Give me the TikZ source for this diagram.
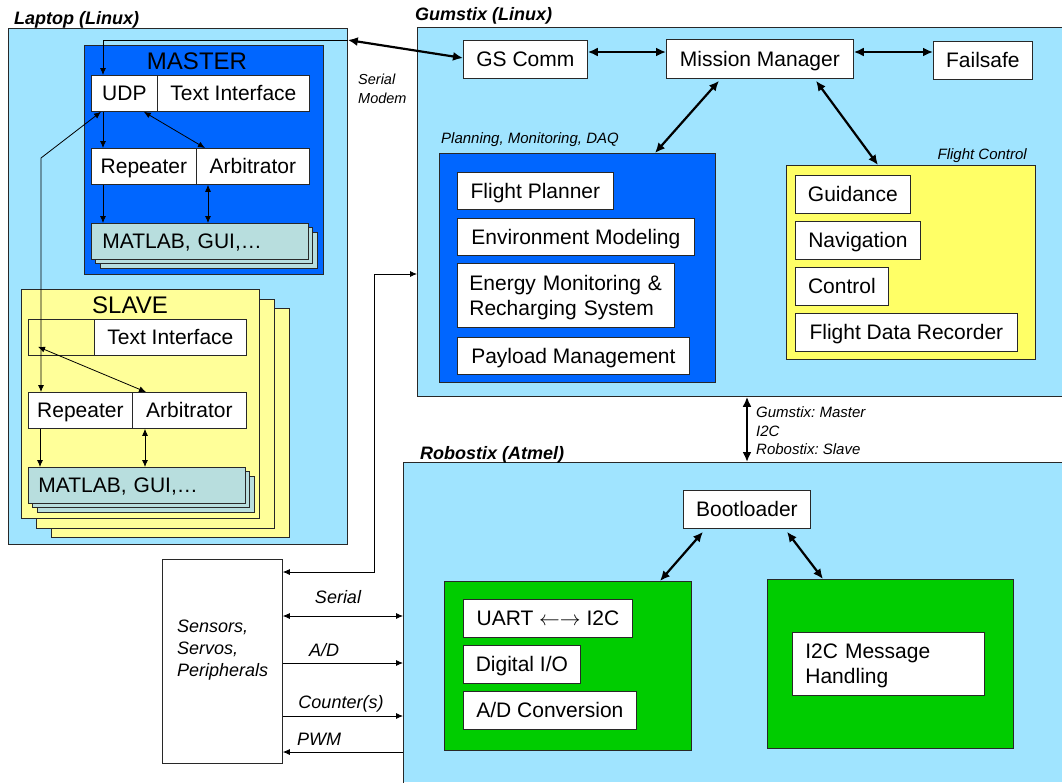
\documentclass[tikz,border=0pt]{standalone}
\usepackage{fontspec}
\setmainfont{Liberation Sans}
\usetikzlibrary{arrows.meta}
\definecolor{skyblue}{RGB}{160,228,255}
\definecolor{deepblue}{RGB}{0,102,255}
\definecolor{paleyellow}{RGB}{255,255,153}
\definecolor{brightyellow}{RGB}{255,255,102}
\definecolor{grayteal}{RGB}{184,222,222}
\definecolor{boardgreen}{RGB}{0,204,0}
\definecolor{edgegray}{RGB}{40,40,40}
\def\fsz#1#2{\fontsize{#1}{#2}\selectfont}
\frenchspacing
\tikzset{
	plain/.style={draw=edgegray, line width=0.8pt, inner sep=0pt, anchor=north west},
	box/.style={plain, fill=white, font=\fsz{21}{25}, text height=15pt, text depth=0pt},
	mbox/.style={plain, fill=white, font=\fsz{21}{25}, text height=15pt, text depth=25pt, align=left},
	mat/.style={plain, fill=grayteal, font=\fsz{21}{25}, text height=15pt, text depth=0pt, align=left},
	title/.style={inner sep=0pt, anchor=base west, font=\fsz{18}{22}\bfseries\itshape},
	note/.style={inner sep=0pt, font=\fsz{15}{18.5}\itshape, align=left},
	sig/.style={inner sep=0pt, anchor=base, font=\fsz{18}{22}\itshape},
	wire/.style={line width=0.8pt, -{Latex[length=7pt,width=6pt]}},
	wires/.style={line width=0.8pt, {Latex[length=7pt,width=6pt]}-{Latex[length=7pt,width=6pt]}},
	link/.style={line width=2.2pt, {Latex[length=10pt,width=9pt]}-{Latex[length=10pt,width=9pt]}}
}

\begin{document}
\begin{tikzpicture}[x=1pt, y=-1pt]
	%%%%% START %%%%%
	\useasboundingbox (0,0) rectangle (1062,782);
	
	% laptop, master side
	\node[plain, fill=skyblue, minimum width=339, minimum height=516] (laptop) at (8,28) {};
	\node[title] (laptopT) at (14,24) {Laptop (Linux)};
	\node[plain, fill=deepblue, minimum width=239, minimum height=229] (master) at (84,45) {};
	\node[inner sep=0pt, anchor=base, font=\fsz{24}{28}] (masterT) at (197,69) {MASTER};
	\node[box, minimum width=66, minimum height=36] (udp) at (91,75) {UDP};
	\node[box, minimum width=152, minimum height=36] (mti) at (157,75) {Text Interface};
	\node[box, minimum width=105, minimum height=36] (mrep) at (91,148) {Repeater};
	\node[box, minimum width=113, minimum height=36] (marb) at (196,148) {Arbitrator};
	\draw[plain, fill=grayteal] (100,232) rectangle +(217,36);
	\draw[plain, fill=grayteal] (95.5,227.5) rectangle +(217,36);
	\node[mat, text width=195, inner xsep=11pt, minimum height=36] (mmat) at (91,223) {MATLAB, GUI,\dots};
	
	% slave side
	\draw[plain, fill=paleyellow] (51,308) rectangle +(238,229);
	\draw[plain, fill=paleyellow] (36,299) rectangle +(238,229);
	\node[plain, fill=paleyellow, minimum width=238, minimum height=229] (slave) at (21,289) {};
	\node[inner sep=0pt, anchor=base, font=\fsz{24}{28}] (slaveT) at (130,313) {SLAVE};
	\node[plain, minimum width=66, minimum height=36] (sblank) at (28,319) {};
	\node[box, minimum width=152, minimum height=36] (sti) at (94,319) {Text Interface};
	\node[box, minimum width=104, minimum height=36] (srep) at (28,392) {Repeater};
	\node[box, minimum width=114, minimum height=36] (sarb) at (132,392) {Arbitrator};
	\draw[plain, fill=grayteal] (37,476) rectangle +(217,36);
	\draw[plain, fill=grayteal] (32.5,471.5) rectangle +(217,36);
	\node[mat, text width=197, inner xsep=10pt, minimum height=36] (smat) at (28,467) {MATLAB, GUI,\dots};
	
	\node[note, font=\fsz{14.5}{19}\itshape, anchor=north west] (modemT) at (358,74) {Serial\\Modem};
	
	% gumstix
	\node[plain, fill=skyblue, minimum width=645, minimum height=369] (gum) at (417,27) {};
	\node[title] (gumT) at (415,20) {Gumstix (Linux)};
	\node[box, minimum width=124, minimum height=38] (gscomm) at (463,40) {GS Comm};
	\node[box, minimum width=187, minimum height=39] (mm) at (666,39) {Mission Manager};
	\node[box, minimum width=99, minimum height=38] (fs) at (933,41) {Failsafe};
	
	\node[note, anchor=base west] (planT) at (441,143) {Planning, Monitoring, DAQ};
	\node[plain, fill=deepblue, minimum width=276, minimum height=229] (plan) at (439,153) {};
	\node[box, minimum width=156, minimum height=37] (fplan) at (457,172) {Flight Planner};
	\node[box, minimum width=237, minimum height=37] (envm) at (457,218) {Environment Modeling};
	\node[mbox, text width=193, inner xsep=12pt, minimum height=64] (energy) at (457,263) {Energy Monitoring \&\\Recharging System};
	\node[box, minimum width=232, minimum height=37] (payload) at (457,337) {Payload Management};
	
	\node[note, anchor=base east] (fcT) at (1027,159) {Flight Control};
	\node[plain, fill=brightyellow, minimum width=249, minimum height=194] (fc) at (786,165) {};
	\node[box, minimum width=115, minimum height=38] (guid) at (795,175) {Guidance};
	\node[box, minimum width=125, minimum height=38] (nav) at (795,221) {Navigation};
	\node[box, minimum width=93, minimum height=38] (ctrl) at (795,267) {Control};
	\node[box, minimum width=222, minimum height=38] (fdr) at (795,313) {Flight Data Recorder};
	
	% robostix
	\node[plain, draw=none, fill=skyblue, minimum width=659, minimum height=320] (robo) at (403,462) {};
	\draw[line width=0.8pt, draw=edgegray] (robo.south west) -- (robo.north west) -- (robo.north east) -- (robo.south east);
	\node[title] (roboT) at (420,459) {Robostix (Atmel)};
	\node[box, minimum width=127, minimum height=38] (boot) at (683,490) {Bootloader};
	\node[plain, fill=boardgreen, minimum width=247, minimum height=169] (lgreen) at (444,581) {};
	\node[plain, fill=boardgreen, minimum width=246, minimum height=169] (rgreen) at (767,579) {};
	\node[box, minimum width=169, minimum height=38] (uart) at (463,599) {UART $\leftarrow\rightarrow$ I2C};
	\node[box, minimum width=117, minimum height=38] (dio) at (463,645) {Digital I/O};
	\node[box, minimum width=173, minimum height=38] (adc) at (463,691) {A/D Conversion};
	\node[mbox, text width=166, inner xsep=13pt, minimum height=63] (i2cmsg) at (792,632) {I2C Message\\Handling};
	
	\node[note, anchor=north west] (i2cT) at (756,406.5) {Gumstix: Master\\I2C\\Robostix: Slave};
	
	% peripherals
	\node[plain, fill=white, minimum width=120, minimum height=204] (sensors) at (162,559) {};
	\node[inner sep=0pt, anchor=north west, align=left, font=\fsz{18}{22}\itshape] (sensorsT) at (177,620) {Sensors,\\Servos,\\Peripherals};
	\node[sig] (serialT) at (338,603) {Serial};
	\node[sig] (adT) at (324,656) {A/D};
	\node[sig] (countT) at (341,708) {Counter(s)};
	\node[sig] (pwmT) at (319,745) {PWM};
	
	% connectors
	\draw[wire] (laptop.east |- 0,40) -| ([xshift=12pt]udp.north west);
	\draw[wire] ([xshift=12pt]udp.south west) -- ([xshift=12pt]mrep.north west);
	\draw[wires] ([xshift=-14pt]udp.south east) -- ([xshift=9pt]marb.north west);
	\draw[wire] ([xshift=12pt]mrep.south west) -- ([xshift=12pt]mmat.north west);
	\draw[wires] ([xshift=12pt]marb.south west) -- ([xshift=117pt]mmat.north west);
	
	\coordinate (bend) at (41,158);
	\draw[wires] ([xshift=10pt]udp.south west) -- (bend) -- ([xshift=13pt]srep.north west);
	\draw[wires] ([xshift=10pt, yshift=9pt]sblank.south west) -- ([xshift=14pt]sarb.north west);
	\draw[wire] ([xshift=12pt]srep.south west) -- ([xshift=12pt]smat.north west);
	\draw[wires] ([xshift=13pt]sarb.south west) -- ([xshift=117pt]smat.north west);
	
	\draw[link] (laptop.east |- 0,40) -- (gscomm.west |- 0,58);
	\draw[link] (gscomm.east |- 0,52) -- (mm.west |- 0,52);
	\draw[link] (mm.east |- 0,52) -- (fs.west |- 0,52);
	\draw[link] ([xshift=53pt, yshift=-2pt]mm.south west) -- ([xshift=216pt]plan.north west);
	\draw[link] ([xshift=150pt, yshift=-2pt]mm.south west) -- ([xshift=92pt]fc.north west);
	\draw[link] (gum.south -| 747,0) -- (robo.north -| 747,0);
	\draw[link] ([xshift=20pt, yshift=-3pt]boot.south west) -- ([xshift=216pt]lgreen.north west);
	\draw[link] ([xshift=104pt, yshift=-3pt]boot.south west) -- ([xshift=56pt]rgreen.north west);
	
	\coordinate (corner) at (374,274);
	\draw[wires] (sensors.east |- 0,572) -| (corner) -- (gum.west |- corner);
	\draw[wires] (sensors.east |- 0,616) -- (robo.west |- 0,616);
	\draw[wire] (sensors.east |- 0,663) -- (robo.west |- 0,663);
	\draw[wire] (sensors.east |- 0,716) -- (robo.west |- 0,716);
	\draw[wire] (robo.west |- 0,752) -- (sensors.east |- 0,752);
	
	%%%%% END %%%%%
\end{tikzpicture}
\end{document}
